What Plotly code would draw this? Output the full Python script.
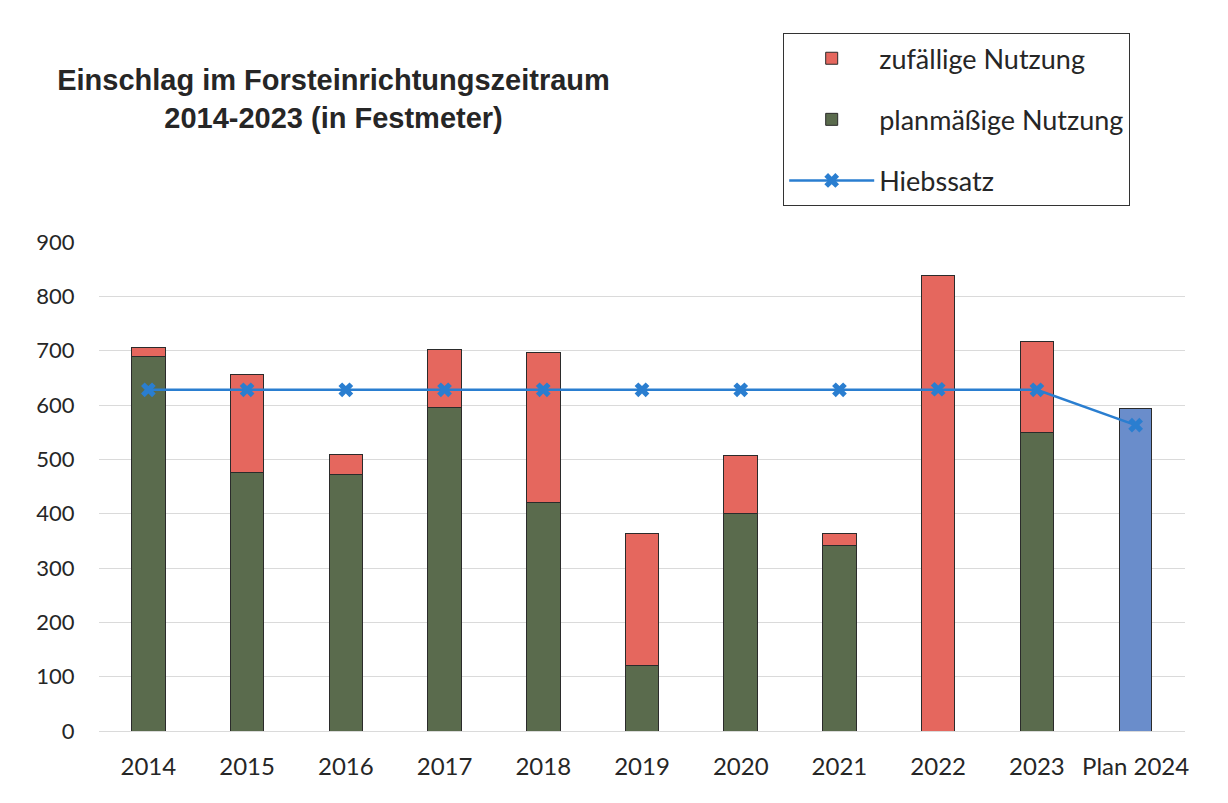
import plotly.graph_objects as go

categories = ["2014", "2015", "2016", "2017", "2018", "2019", "2020", "2021", "2022", "2023", "Plan 2024"]
planmaessig = [690, 475, 473, 596, 420, 120, 400, 342, 0, 550, None]
zufaellig = [15, 182, 35, 107, 276, 243, 107, 21, 839, 166, None]
plan_2024 = [None, None, None, None, None, None, None, None, None, None, 593]
hiebssatz = [628, 628, 628, 628, 628, 628, 628, 628, 629, 628, 563]

RED = "#E5675E"
GREEN = "#5A6B4D"
BLUE = "#6A8DCB"
LINE = "#2A7ED0"
EDGE = "#2b2b2b"
FONT = "Lato"

W, H = 1220, 795  # page body adds an 8px offset

fig = go.Figure()
fig.add_trace(go.Bar(
    x=categories, y=planmaessig, name="planmäßige Nutzung",
    marker=dict(color=GREEN, line=dict(color=EDGE, width=1)),
    width=0.34, legendgroup="g2", legendrank=2,
))
fig.add_trace(go.Bar(
    x=categories, y=zufaellig, name="zufällige Nutzung",
    marker=dict(color=RED, line=dict(color=EDGE, width=1)),
    width=0.34, legendgroup="g1", legendrank=1,
))
fig.add_trace(go.Bar(
    x=categories, y=plan_2024, name="Plan 2024",
    marker=dict(color=BLUE, line=dict(color=EDGE, width=1)),
    width=0.32, showlegend=False,
))
fig.add_trace(go.Scatter(
    x=categories, y=hiebssatz, name="Hiebssatz", mode="lines+markers",
    line=dict(color=LINE, width=2.5),
    marker=dict(symbol="x", size=13, color=LINE),
    legendgroup="g3", legendrank=3,
))

fig.update_layout(
    barmode="stack",
    width=W, height=H,
    paper_bgcolor="white", plot_bgcolor="white",
    margin=dict(l=91, r=43, t=234, b=72, autoexpand=False),
    font=dict(family=FONT, color="#262626"),
    title=dict(
        text="<b>Einschlag im Forsteinrichtungszeitraum<br>2014-2023 (in Festmeter)</b>",
        x=325.5 / W, xref="container", xanchor="center",
        y=1 - 82 / H, yref="container", yanchor="top",
        font=dict(family="Liberation Sans", size=29, color="#262626"),
    ),
    legend=dict(
        xref="container", yref="container",
        x=775 / W, y=1 - 25 / H, xanchor="left", yanchor="top",
        bordercolor="#333333", borderwidth=1.2,
        font=dict(family=FONT, size=27, color="#262626"),
        traceorder="grouped", tracegroupgap=23,
        itemwidth=85,
    ),
    showlegend=True,
)
fig.update_xaxes(
    type="category", range=[-0.5, 10.5], showgrid=False, showline=False,
    tickfont=dict(family=FONT, size=24, color="#262626"),
    ticks="outside", ticklen=14, tickcolor="rgba(0,0,0,0)", tickangle=0,
)
fig.update_yaxes(
    range=[0, 900], dtick=100, showgrid=True, gridcolor="#DADADA", gridwidth=1,
    zeroline=True, zerolinecolor="#DADADA", zerolinewidth=1, showline=False,
    tickfont=dict(family=FONT, size=22, color="#262626"),
    ticks="outside", ticklen=19, tickcolor="rgba(0,0,0,0)",
)

fig.write_html("out.html")
